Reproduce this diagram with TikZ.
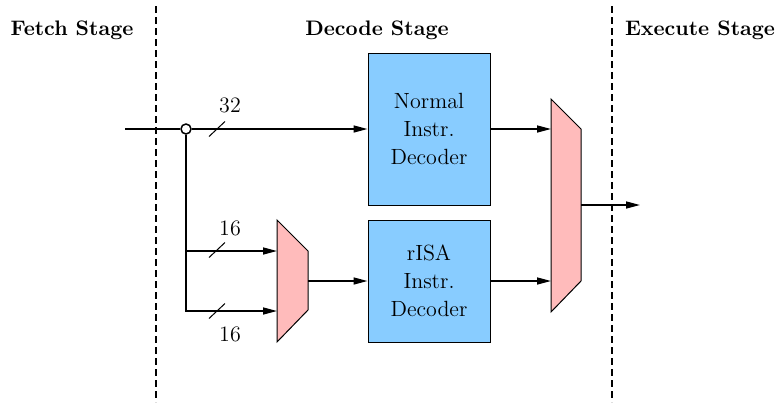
\documentclass[tikz,border=0pt]{standalone}
\usetikzlibrary{arrows.meta}

\definecolor{decblue}{RGB}{136,204,255}
\definecolor{muxpink}{RGB}{255,187,187}

\begin{document}
\begin{tikzpicture}[x=0.5pt, y=-0.5pt, font=\fontsize{11}{14}\selectfont,
  wire/.style={line width=0.75pt},
  bus/.style={wire, -{Triangle[length=7pt, width=3.5pt]}},
  decoder/.style={draw, line width=0.5pt, fill=decblue, minimum width=61pt, align=center, inner sep=0pt},
  muxbody/.style={draw, line width=0.5pt, fill=muxpink},
  stage/.style={font=\bfseries\fontsize{10.5}{14}\selectfont},
  boundary/.style={line width=0.75pt, dash pattern=on 3.5pt off 2pt},
  widthmark/.style={line width=0.5pt}]
  \useasboundingbox (0,0) rectangle (775,402);
  % stage names and boundaries
  \node[stage] (fetch) at (72,30) {Fetch Stage};
  \node[stage] (decode) at (377,30) {Decode Stage};
  \node[stage] (execute) at (700,30) {Execute Stage};
  \foreach \x in {156,612}{\draw[boundary] (\x,6) -- (\x,402);}
  % decoders
  \node[decoder, minimum height=76pt] (normal) at (429,129) {Normal\\Instr.\\Decoder};
  \node[decoder, minimum height=61pt] (risa) at (429,281) {rISA\\Instr.\\Decoder};
  % 2:1 muxes
  \draw[muxbody] (277,220) -- (308,251) -- (308,310) -- (277,342) -- cycle;
  \coordinate (sm in1) at (277,251);
  \coordinate (sm in2) at (277,311);
  \coordinate (sm out) at (308,281);
  \draw[muxbody] (551,99) -- (581,129) -- (581,281) -- (551,312) -- cycle;
  \coordinate (bm out) at (581,205);
  \coordinate (exe in) at (640,205);
  % instruction word in, split into halves
  \coordinate (fetch out) at (125,129);
  \node[circle, draw, wire, minimum size=5pt, inner sep=0pt] (tap) at (186,129) {};
  \draw[wire] (fetch out) -- (tap);
  \draw[bus] (tap) -- (normal);
  \draw[bus] (tap) |- (sm in2);
  \draw[bus] (tap |- sm in1) -- (sm in1);
  % bus widths
  \foreach \y in {129,250,311}{\draw[widthmark] (217,\y) ++(-8,7.5) -- ++(16,-15);}
  \node (w32) at (230,105) {32};
  \node (w16a) at (230,228) {16};
  \node (w16b) at (230,334) {16};
  % decoded paths to execute
  \draw[bus] (sm out) -- (risa);
  \draw[bus] (normal.east) -- (normal.east -| 551,0);
  \draw[bus] (risa.east) -- (risa.east -| 551,0);
  \draw[bus] (bm out) -- (exe in);
\end{tikzpicture}
\end{document}
